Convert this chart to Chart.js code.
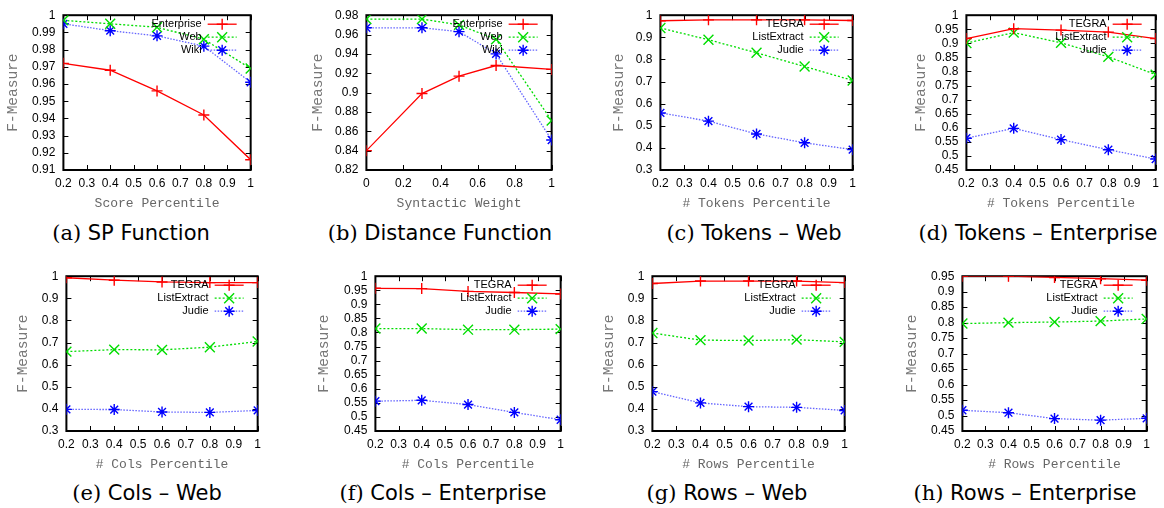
<!DOCTYPE html>
<html>
<head>
<meta charset="utf-8">
<script src="https://cdn.jsdelivr.net/npm/chart.js@4.4.1/dist/chart.umd.min.js"></script>
<style>
  body { margin: 0; background: #fff; width: 1164px; height: 508px; position: relative; overflow: hidden; }
  canvas { position: absolute; }
  .cap { position: absolute; font-family: "DejaVu Sans"; font-size: 21px; color: #000; white-space: nowrap; transform: translate(-50%, -50%); }
  .cap span { font-family: "DejaVu Serif"; }
</style>
</head>
<body>
<script>
// x values
const xPct = [0.2, 0.4, 0.6, 0.8, 1];
const xWeight = [0, 0.3, 0.5, 0.7, 1];

// (a) SP Function
const spEnterprise = [0.972, 0.968, 0.956, 0.942, 0.916];
const spWeb = [0.997, 0.995, 0.993, 0.986, 0.969];
const spWiki = [0.995, 0.991, 0.988, 0.982, 0.961];
// (b) Distance Function
const distEnterprise = [0.840, 0.899, 0.917, 0.928, 0.924];
const distWeb = [0.976, 0.976, 0.970, 0.955, 0.871];
const distWiki = [0.967, 0.967, 0.963, 0.940, 0.851];
// (c) Tokens - Web
const tokWebTegra = [0.975, 0.979, 0.979, 0.979, 0.976];
const tokWebList = [0.942, 0.889, 0.830, 0.768, 0.705];
const tokWebJudie = [0.558, 0.521, 0.463, 0.423, 0.392];
// (d) Tokens - Enterprise
const tokEntTegra = [0.917, 0.952, 0.947, 0.940, 0.917];
const tokEntList = [0.901, 0.938, 0.902, 0.852, 0.789];
const tokEntJudie = [0.563, 0.598, 0.558, 0.522, 0.489];
// (e) Cols - Web
const colWebTegra = [0.993, 0.982, 0.974, 0.971, 0.971];
const colWebList = [0.659, 0.668, 0.667, 0.679, 0.705];
const colWebJudie = [0.398, 0.397, 0.386, 0.384, 0.393];
// (f) Cols - Enterprise
const colEntTegra = [0.957, 0.956, 0.946, 0.942, 0.937];
const colEntList = [0.814, 0.814, 0.810, 0.810, 0.812];
const colEntJudie = [0.556, 0.559, 0.544, 0.516, 0.490];
// (g) Rows - Web
const rowWebTegra = [0.967, 0.978, 0.978, 0.978, 0.971];
const rowWebList = [0.743, 0.711, 0.709, 0.713, 0.703];
const rowWebJudie = [0.478, 0.427, 0.410, 0.407, 0.393];
// (h) Rows - Enterprise
const rowEntTegra = [0.950, 0.950, 0.946, 0.942, 0.937];
const rowEntList = [0.797, 0.800, 0.802, 0.805, 0.812];
const rowEntJudie = [0.517, 0.509, 0.490, 0.485, 0.491];

const namesDomain = ['Enterprise', 'Web', 'Wiki'];
const namesMethod = ['TEGRA', 'ListExtract', 'Judie'];

// line styles: red +, green x, blue *
const styles = [
  { color: '#ff0000', line: '#ff0000', dash: [], pointStyle: 'cross', radius: 5.5 },
  { color: '#00dd00', line: '#00dd00', dash: [2, 2], pointStyle: 'crossRot', radius: 7 },
  { color: '#0000ff', line: 'rgba(60,60,255,0.8)', dash: [1.5, 1.5], pointStyle: 'star', radius: 5.5 }
];

// page layout of each plot (plot box in page pixels)
const panels = [
  { l: 63, r: 252, t: 8, b: 170, gap: 51, x: xPct, xr: [0.2, 1, 0.1], yr: [0.91, 1, 0.01], xTitle: 'Score Percentile',
    series: [spEnterprise, spWeb, spWiki], names: namesDomain, tag: '(a)', cap: 'SP Function', cx: 131, cy: 233 },
  { l: 366, r: 553, t: 8, b: 170, gap: 49, x: xWeight, xr: [0, 1, 0.2], yr: [0.82, 0.98, 0.02], xTitle: 'Syntactic Weight',
    series: [distEnterprise, distWeb, distWiki], names: namesDomain, tag: '(b)', cap: 'Distance Function', cx: 440, cy: 233 },
  { l: 660, r: 854, t: 8, b: 170, gap: 42, x: xPct, xr: [0.2, 1, 0.1], yr: [0.3, 1, 0.1], xTitle: '# Tokens Percentile',
    series: [tokWebTegra, tokWebList, tokWebJudie], names: namesMethod, tag: '(c)', cap: 'Tokens – Web', cx: 754, cy: 233 },
  { l: 966, r: 1157, t: 8, b: 170, gap: 46, x: xPct, xr: [0.2, 1, 0.1], yr: [0.45, 1, 0.05], xTitle: '# Tokens Percentile',
    series: [tokEntTegra, tokEntList, tokEntJudie], names: namesMethod, tag: '(d)', cap: 'Tokens – Enterprise', cx: 1038, cy: 233 },
  { l: 66, r: 259, t: 269, b: 431, gap: 44, x: xPct, xr: [0.2, 1, 0.1], yr: [0.3, 1, 0.1], xTitle: '# Cols Percentile',
    series: [colWebTegra, colWebList, colWebJudie], names: namesMethod, tag: '(e)', cap: 'Cols – Web', cx: 147, cy: 493 },
  { l: 375, r: 562, t: 269, b: 431, gap: 52, x: xPct, xr: [0.2, 1, 0.1], yr: [0.45, 1, 0.05], xTitle: '# Cols Percentile',
    series: [colEntTegra, colEntList, colEntJudie], names: namesMethod, tag: '(f)', cap: 'Cols – Enterprise', cx: 443, cy: 493 },
  { l: 652, r: 846, t: 269, b: 431, gap: 44, x: xPct, xr: [0.2, 1, 0.1], yr: [0.3, 1, 0.1], xTitle: '# Rows Percentile',
    series: [rowWebTegra, rowWebList, rowWebJudie], names: namesMethod, tag: '(g)', cap: 'Rows – Web', cx: 727, cy: 493 },
  { l: 962, r: 1148, t: 269, b: 431, gap: 51, x: xPct, xr: [0.2, 1, 0.1], yr: [0.45, 0.95, 0.05], xTitle: '# Rows Percentile',
    series: [rowEntTegra, rowEntList, rowEntJudie], names: namesMethod, tag: '(h)', cap: 'Rows – Enterprise', cx: 1025, cy: 493 }
];

const fmt = v => parseFloat(v.toFixed(3)).toString();

// border box + inward ticks on all four sides (gnuplot look)
const framePlugin = {
  id: 'frame',
  beforeDatasetsDraw(chart) {
    const { ctx, chartArea: a, scales: { x, y } } = chart;
    ctx.save();
    ctx.strokeStyle = '#000';
    ctx.lineWidth = 1;
    ctx.beginPath();
    y.ticks.forEach(t => {
      const py = Math.round(y.getPixelForValue(t.value)) + 0.5;
      ctx.moveTo(a.left, py); ctx.lineTo(a.left + 5, py);
      ctx.moveTo(a.right, py); ctx.lineTo(a.right - 5, py);
    });
    x.ticks.forEach(t => {
      const px = Math.round(x.getPixelForValue(t.value)) + 0.5;
      ctx.moveTo(px, a.bottom); ctx.lineTo(px, a.bottom - 5);
      ctx.moveTo(px, a.top); ctx.lineTo(px, a.top + 5);
    });
    ctx.stroke();
    ctx.lineWidth = 2;
    ctx.strokeRect(a.left, a.top, a.right - a.left, a.bottom - a.top);
    ctx.restore();
  }
};

// key in the top right corner: text, then line sample with marker
const keyPlugin = {
  id: 'key',
  afterDatasetsDraw(chart) {
    const { ctx, chartArea: a } = chart;
    ctx.save();
    ctx.font = '11px "Liberation Sans"';
    ctx.textAlign = 'right';
    ctx.textBaseline = 'middle';
    chart.data.datasets.forEach((ds, i) => {
      const st = styles[i];
      const cy = a.top + 9 + i * 13;
      ctx.fillStyle = '#000';
      ctx.fillText(ds.label, a.right - 49, cy);
      ctx.strokeStyle = st.line;
      ctx.lineWidth = 1.3;
      ctx.setLineDash(st.dash);
      ctx.beginPath();
      ctx.moveTo(a.right - 43, cy);
      ctx.lineTo(a.right - 14, cy);
      ctx.stroke();
      ctx.setLineDash([]);
      ctx.strokeStyle = st.color;
      ctx.lineWidth = 1.4;
      Chart.helpers.drawPoint(ctx, { pointStyle: st.pointStyle, radius: st.radius, rotation: 0, borderWidth: 1.4 }, a.right - 28.5, cy);
    });
    ctx.restore();
  }
};

panels.forEach(p => {
  const yw = p.gap + 8.4;
  const xh = 41;
  const padT = 8, padR = 8;
  const c = document.createElement('canvas');
  c.width = Math.round(yw + (p.r - p.l) + padR);
  c.height = padT + (p.b - p.t) + xh;
  c.style.left = (p.l - yw) + 'px';
  c.style.top = (p.t - padT) + 'px';
  document.body.appendChild(c);

  new Chart(c, {
    type: 'scatter',
    data: {
      datasets: p.series.map((s, i) => ({
        label: p.names[i],
        data: s.map((v, k) => ({ x: p.x[k], y: v })),
        showLine: true,
        borderColor: styles[i].line,
        borderWidth: 1.3,
        borderDash: styles[i].dash,
        pointStyle: styles[i].pointStyle,
        pointRadius: styles[i].radius,
        pointBorderColor: styles[i].color,
        pointBackgroundColor: styles[i].color,
        pointBorderWidth: 1.4
      }))
    },
    options: {
      responsive: false,
      animation: false,
      devicePixelRatio: 1,
      layout: { padding: { top: padT, right: padR, left: 0, bottom: 0 } },
      plugins: { legend: { display: false }, tooltip: { enabled: false } },
      scales: {
        x: {
          type: 'linear', min: p.xr[0], max: p.xr[1],
          grid: { display: false, drawTicks: false }, border: { display: false },
          ticks: { stepSize: p.xr[2], autoSkip: false, maxRotation: 0, padding: 6, color: '#000',
                   font: { family: 'Liberation Sans', size: 12 }, callback: fmt },
          title: { display: true, text: p.xTitle, color: '#666', padding: 0,
                   font: { family: 'Liberation Mono', size: 13 } },
          afterFit: s => { s.height = xh; }
        },
        y: {
          type: 'linear', min: p.yr[0], max: p.yr[1],
          grid: { display: false, drawTicks: false }, border: { display: false },
          ticks: { stepSize: p.yr[2], autoSkip: false, padding: 8, color: '#000',
                   font: { family: 'Liberation Sans', size: 12 }, callback: fmt },
          title: { display: true, text: 'F-Measure', color: '#777', padding: 0,
                   font: { family: 'Liberation Mono', size: 14.5 } },
          afterFit: s => { s.width = yw; }
        }
      }
    },
    plugins: [framePlugin, keyPlugin]
  });

  // subfigure caption
  const d = document.createElement('div');
  d.className = 'cap';
  d.style.left = p.cx + 'px';
  d.style.top = p.cy + 'px';
  d.innerHTML = '<span>' + p.tag + '</span> ' + p.cap;
  document.body.appendChild(d);
});
</script>
</body>
</html>
